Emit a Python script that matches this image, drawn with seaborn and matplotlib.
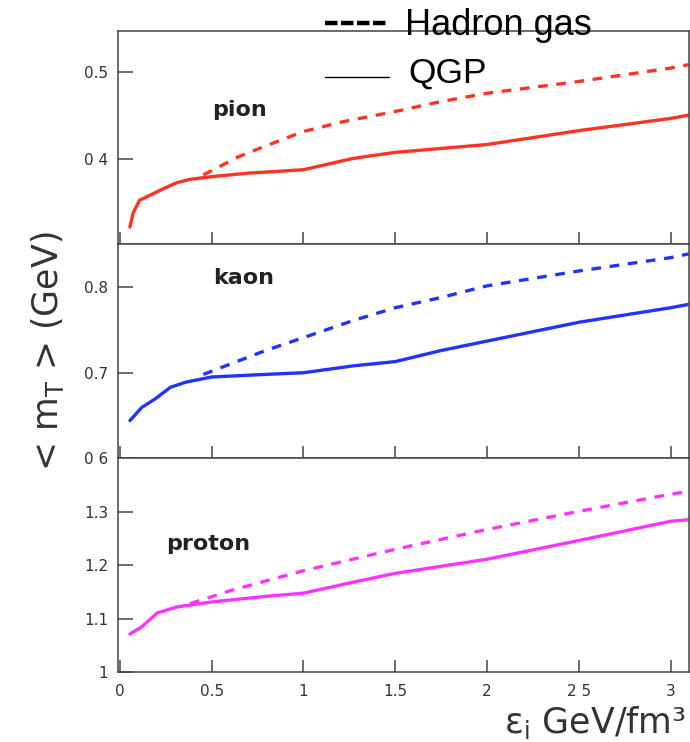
import matplotlib
matplotlib.use("Agg")
import matplotlib.pyplot as plt
import pandas as pd
import seaborn as sns
from matplotlib.lines import Line2D

# Mean transverse mass <m_T> (GeV) versus initial energy density (GeV/fm^3)
pion_qgp_e = [0.055, 0.072, 0.108, 0.168, 0.24, 0.31, 0.383, 0.5, 0.695, 1.0, 1.27, 1.5, 2.0, 2.5, 3.0, 3.1]
pion_qgp_mt = [0.322, 0.338, 0.353, 0.359, 0.3665, 0.373, 0.377, 0.380, 0.384, 0.388, 0.401, 0.408, 0.417, 0.433, 0.447, 0.451]
pion_hg_e = [0.455, 0.647, 0.79, 1.0, 1.22, 1.5, 1.75, 2.0, 2.5, 3.0, 3.1]
pion_hg_mt = [0.382, 0.403, 0.415, 0.432, 0.4435, 0.455, 0.4665, 0.476, 0.4896, 0.505, 0.509]

kaon_qgp_e = [0.055, 0.12, 0.19, 0.276, 0.36, 0.5, 0.79, 1.0, 1.27, 1.5, 1.75, 2.0, 2.5, 3.0, 3.1]
kaon_qgp_mt = [0.644, 0.6595, 0.669, 0.683, 0.689, 0.695, 0.698, 0.700, 0.708, 0.713, 0.726, 0.737, 0.759, 0.776, 0.780]
kaon_hg_e = [0.455, 0.6, 0.79, 1.0, 1.27, 1.5, 1.75, 2.0, 2.5, 3.0, 3.1]
kaon_hg_mt = [0.698, 0.710, 0.7257, 0.741, 0.761, 0.776, 0.788, 0.8016, 0.819, 0.8346, 0.839]

proton_qgp_e = [0.055, 0.12, 0.204, 0.31, 0.5, 0.79, 1.0, 1.27, 1.5, 2.0, 2.5, 3.0, 3.1]
proton_qgp_mt = [1.071, 1.0846, 1.1105, 1.1216, 1.131, 1.1414, 1.1475, 1.168, 1.1846, 1.211, 1.246, 1.282, 1.285]
proton_hg_e = [0.383, 0.6, 1.0, 1.5, 2.0, 2.5, 3.0, 3.1]
proton_hg_mt = [1.128, 1.152, 1.1895, 1.2296, 1.2667, 1.3006, 1.3327, 1.3377]

species = ["pion", "kaon", "proton"]
colors = ["#ff3322", "#2233ff", "#ff33ff"]
ylims = [(0.302, 0.548), (0.6, 0.85), (1.0, 1.4)]
yticks = [[0.4, 0.5], [0.6, 0.7, 0.8], [1.0, 1.1, 1.2, 1.3]]
yticklabels = [["0 4", "0.5"], ["0 6", "0.7", "0.8"], ["1", "1.1", "1.2", "1.3"]]
xticks = [0, 0.5, 1, 1.5, 2, 2.5, 3]
xticklabels = ["0", "0.5", "1", "1.5", "2", "2 5", "3"]
label_pos = [(0.505, 0.457), (0.506, 0.8103), (0.254, 1.2398)]

qgp = [(pion_qgp_e, pion_qgp_mt), (kaon_qgp_e, kaon_qgp_mt), (proton_qgp_e, proton_qgp_mt)]
hg = [(pion_hg_e, pion_hg_mt), (kaon_hg_e, kaon_hg_mt), (proton_hg_e, proton_hg_mt)]

sns.set_style("ticks")
plt.rcParams["font.family"] = ["DejaVu Sans"]

W, H = 690, 742
fig = plt.figure(figsize=(W / 100, H / 100), dpi=100)

left_px, right_px, top_px, bottom_px = 118, 689, 30.7, 672
panel_h = (bottom_px - top_px) / 3

spine_col = "#444444"
for i, name in enumerate(species):
    y0 = top_px + panel_h * (i + 1)
    ax = fig.add_axes([left_px / W, 1 - y0 / H, (right_px - left_px) / W, panel_h / H])

    df_q = pd.DataFrame({"e": qgp[i][0], "mt": qgp[i][1]})
    df_h = pd.DataFrame({"e": hg[i][0], "mt": hg[i][1]})
    sns.lineplot(data=df_q, x="e", y="mt", ax=ax, color=colors[i], lw=2.4,
                 estimator=None, sort=False)
    sns.lineplot(data=df_h, x="e", y="mt", ax=ax, color=colors[i], lw=2.4,
                 estimator=None, sort=False, linestyle=(0, (2.9, 2.6)))

    ax.set_xlim(-0.01, 3.1)
    ax.set_ylim(*ylims[i])
    ax.set_yticks(yticks[i])
    ax.set_yticklabels(yticklabels[i])
    ax.set_xticks(xticks)
    if i == 2:
        ax.set_xticklabels(xticklabels)
    else:
        ax.set_xticklabels([])
    ax.set_xlabel("")
    ax.set_ylabel("")

    ax.tick_params(axis="x", direction="in", length=9, width=1.1, color=spine_col,
                   labelcolor="#333333", labelsize=11, pad=9)
    ax.tick_params(axis="y", direction="in", length=10.5, width=1.1, color=spine_col,
                   labelcolor="#333333", labelsize=11, pad=7)
    for s in ax.spines.values():
        s.set_color(spine_col)
        s.set_linewidth(1.1)

    ax.text(label_pos[i][0], label_pos[i][1], name, fontsize=16, fontweight="bold",
            color="#222222", ha="left", va="center")

# axis titles
fig.text(47 / W, 1 - 351 / H, "< m$_{\\rm T}$ > (GeV)", rotation=90, fontsize=25,
         ha="center", va="center", color="#333333")
fig.text(686 / W, 1 - 733 / H, "ε$_{\\rm i}$ GeV/fm³", fontsize=25,
         ha="right", va="baseline", color="#333333")

# line-style key at the top
fig.add_artist(Line2D([325 / W, 387 / W], [1 - 23.3 / H, 1 - 23.3 / H],
                      transform=fig.transFigure, color="black", lw=3.2,
                      linestyle=(0, (2.8, 0.8)), solid_capstyle="butt"))
fig.add_artist(Line2D([325 / W, 389 / W], [1 - 77.3 / H, 1 - 77.3 / H],
                      transform=fig.transFigure, color="black", lw=1.0))
fig.text(405 / W, 1 - 35 / H, "Hadron gas", fontsize=26, family="Liberation Sans",
         ha="left", va="baseline", color="black")
fig.text(408 / W, 1 - 83 / H, "QGP", fontsize=25.5, family="Liberation Sans",
         ha="left", va="baseline", color="black")

fig.savefig("out.png", dpi=100)
